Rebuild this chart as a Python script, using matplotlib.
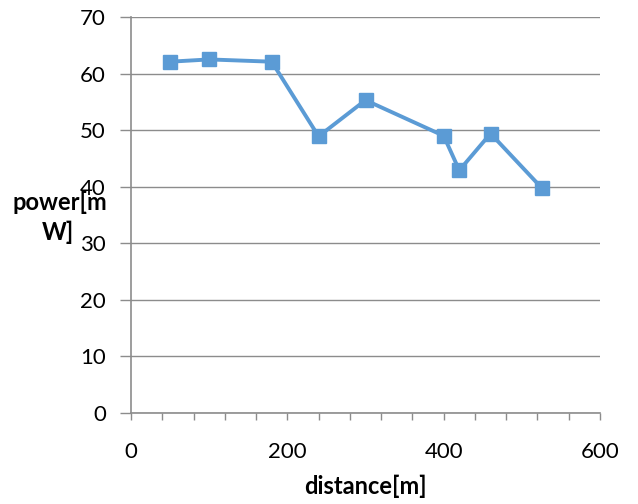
import matplotlib.pyplot as plt
from matplotlib.ticker import MultipleLocator

plt.rcParams['font.family'] = ['Lato', 'DejaVu Sans']

# 距离 / 功率
distance = [50, 100, 180, 240, 300, 400, 420, 460, 526]
power = [62.1, 62.5, 62.1, 48.9, 55.3, 49.0, 42.9, 49.4, 39.7]

x_ticks = [0, 200, 400, 600]
y_ticks = [0, 10, 20, 30, 40, 50, 60, 70]

grid_col = '#8c8c8c'
line_col = '#5B9BD5'

fig = plt.figure(figsize=(6.38, 5.04), dpi=100)
ax = fig.add_axes([131 / 638, 1 - 413 / 504, 469 / 638, 396 / 504])

ax.plot(distance, power, color=line_col, lw=2.8, marker='s', ms=10.5,
        markerfacecolor=line_col, markeredgecolor=line_col, zorder=3,
        clip_on=False)

ax.set_xlim(0, 600)
ax.set_ylim(0, 70)
ax.set_xticks(x_ticks)
ax.xaxis.set_minor_locator(MultipleLocator(40))
ax.set_yticks(y_ticks)

ax.yaxis.grid(True, color=grid_col, lw=1)
for s in ['top', 'right']:
    ax.spines[s].set_visible(False)
for s in ['left', 'bottom']:
    ax.spines[s].set_color(grid_col)
    ax.spines[s].set_linewidth(1.2)

ax.tick_params(axis='y', which='major', direction='out', length=8, width=1,
               color=grid_col, labelsize=16, pad=10)
ax.tick_params(axis='x', which='both', direction='out', length=5, width=1,
               color=grid_col, labelsize=16, pad=16)

fig.text(365 / 638, 1 - 486 / 504, 'distance[m]', fontsize=17, fontweight='bold',
         ha='center', va='center')
fig.text(60 / 638, 1 - 202 / 504, 'power[m', fontsize=17, fontweight='bold',
         ha='center', va='center')
fig.text(58 / 638, 1 - 232 / 504, 'W]', fontsize=17, fontweight='bold',
         ha='center', va='center')

fig.savefig('out.png', dpi=100)
